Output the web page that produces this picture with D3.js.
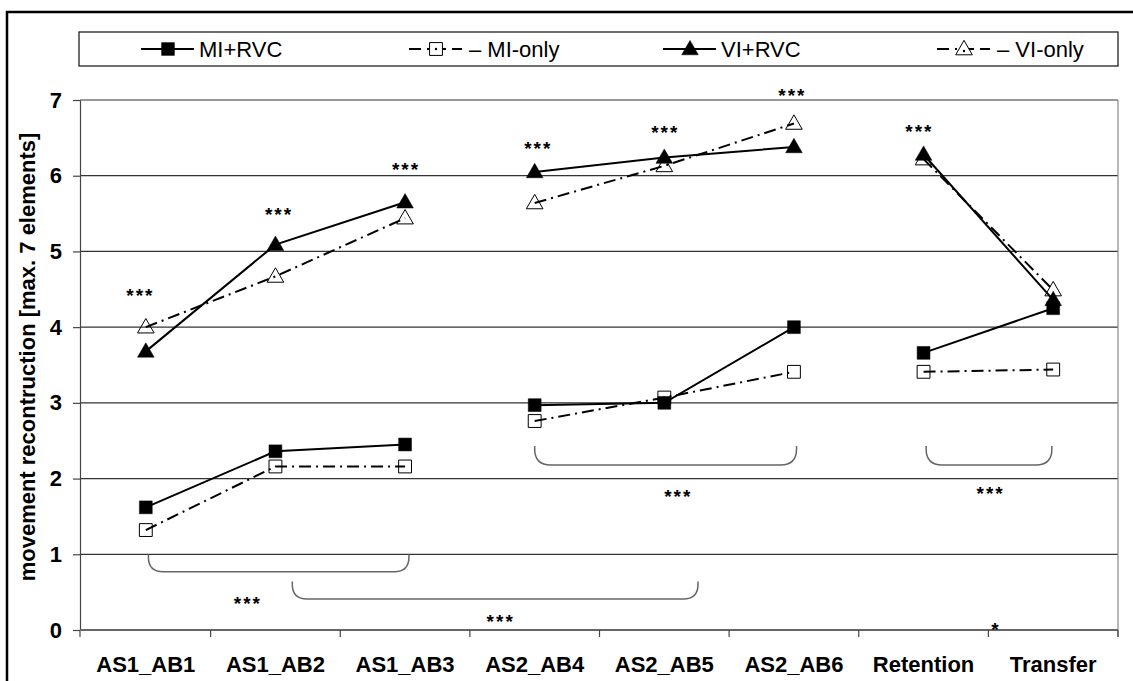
<!DOCTYPE html>
<html>
<head>
<meta charset="utf-8">
<script src="https://cdn.jsdelivr.net/npm/d3@7"></script>
<style>
	body { margin: 0; background: #fff; }
	.tickLabel { font-family: "Liberation Sans", Arial, sans-serif; font-weight: bold; fill: #000; }
	.legendText { font-family: "Liberation Sans Narrow", "Liberation Sans", Arial, sans-serif; font-size: 22px; fill: #000; }
	.stars { font-family: "Liberation Sans", Arial, sans-serif; font-weight: bold; font-size: 19px; letter-spacing: 2px; fill: #000; }
</style>
</head>
<body>
<script>

//Chart values
let categories = ["AS1_AB1", "AS1_AB2", "AS1_AB3", "AS2_AB4", "AS2_AB5", "AS2_AB6", "Retention", "Transfer"];
let miRvc  = [1.62, 2.36, 2.45, 2.97, 3.00, 4.00, 3.66, 4.25];
let miOnly = [1.32, 2.16, 2.16, 2.76, 3.07, 3.41, 3.41, 3.44];
let viRvc  = [3.68, 5.09, 5.65, 6.05, 6.24, 6.38, 6.28, 4.36];
let viOnly = [4.00, 4.67, 5.44, 5.64, 6.13, 6.69, 6.22, 4.49];
let yTicks = [0, 1, 2, 3, 4, 5, 6, 7];

//Lines are only joined inside each block of sessions
let segments = [[0, 2], [3, 5], [6, 7]];

//Significance stars: [category index, value, text]
let starMarks = [
	[-0.05, 4.48, "***"], [1.02, 5.55, "***"], [2.0, 6.14, "***"],
	[3.02, 6.42, "***"], [4.0, 6.63, "***"], [4.98, 7.12, "***"],
	[5.96, 6.65, "***"],
	[0.78, 0.41, "***"], [2.73, 0.17, "***"], [4.1, 1.82, "***"],
	[6.51, 1.86, "***"], [6.55, 0.06, "*"]
];

//Brackets under the lines: [from index, to index, top value, bottom value]
let brackets = [
	[0.02, 2.03, 1.0, 0.77],
	[1.13, 4.26, 0.64, 0.41],
	[3.0, 5.02, 2.43, 2.18],
	[6.02, 6.99, 2.43, 2.18]
];

let legendNames = ["MI+RVC", "MI-only", "VI+RVC", "VI-only"];

window.onload = drawChart();

function drawChart(){

	let width = 1133;
	let height = 681;

	let svg = d3.select("body")
		.append("svg")
		.attr("width", width)
		.attr("height", height);

	//Outer frame, running off the bottom and right
	svg.append("rect")
		.attr("x", 7)
		.attr("y", 12)
		.attr("width", 1150)
		.attr("height", 700)
		.attr("fill", "none")
		.attr("stroke", "#000")
		.attr("stroke-width", 2.5);

	let left = 80, right = 1118, top = 100, bottom = 630;

	let x = d3.scaleBand()
		.domain(categories)
		.range([left + 1, right]);

	//Index scale for annotations placed between categories
	let xi = d3.scaleLinear()
		.domain([0, 1])
		.range([x(categories[0]) + x.bandwidth() / 2, x(categories[1]) + x.bandwidth() / 2]);

	let y = d3.scaleLinear()
		.domain([0, 7])
		.range([bottom, top]);

	//Horizontal gridlines
	svg.selectAll(".grid")
		.data(yTicks.filter(function(d){ return d > 0; }))
		.enter()
		.append("line")
		.attr("x1", left)
		.attr("x2", right)
		.attr("y1", function(d){ return y(d); })
		.attr("y2", function(d){ return y(d); })
		.attr("stroke", "#333")
		.attr("stroke-width", 1.2);

	//Right edge of the plot
	svg.append("line")
		.attr("x1", right).attr("x2", right)
		.attr("y1", top).attr("y2", bottom + 7)
		.attr("stroke", "#888")
		.attr("stroke-width", 1.2);

	//Y axis
	let yAxis = svg.append("g")
		.attr("transform", "translate(" + left + ",0)")
		.call(d3.axisLeft(y).tickValues(yTicks).tickFormat(d3.format("d")).tickSize(7).tickPadding(11).tickSizeOuter(0));
	yAxis.select(".domain").attr("stroke", "#444").attr("stroke-width", 1.2);
	yAxis.selectAll(".tick line").attr("stroke", "#444").attr("stroke-width", 1.2);
	yAxis.selectAll(".tick text")
		.attr("class", "tickLabel")
		.style("font-size", "22px");

	//Extend the y axis below zero like the original
	svg.append("line")
		.attr("x1", left).attr("x2", left)
		.attr("y1", bottom).attr("y2", bottom + 7)
		.attr("stroke", "#444")
		.attr("stroke-width", 1.2);

	//X axis line with ticks on the band edges
	svg.append("line")
		.attr("x1", left).attr("x2", right)
		.attr("y1", bottom).attr("y2", bottom)
		.attr("stroke", "#666")
		.attr("stroke-width", 2);

	let edges = categories.map(function(c){ return x(c); }).concat([x.range()[1]]);
	svg.selectAll(".xTick")
		.data(edges.slice(1))
		.enter()
		.append("line")
		.attr("x1", function(d){ return d; })
		.attr("x2", function(d){ return d; })
		.attr("y1", bottom)
		.attr("y2", bottom + 7)
		.attr("stroke", "#444")
		.attr("stroke-width", 1.2);

	svg.selectAll(".xLabel")
		.data(categories)
		.enter()
		.append("text")
		.attr("class", "tickLabel")
		.attr("x", function(d){ return x(d) + x.bandwidth() / 2; })
		.attr("y", 672)
		.attr("text-anchor", "middle")
		.style("font-size", "22px")
		.text(function(d){ return d; });

	//Y axis title
	svg.append("text")
		.attr("class", "tickLabel")
		.attr("transform", "translate(35,357) rotate(-90)")
		.attr("text-anchor", "middle")
		.style("font-size", "22px")
		.text("movement recontruction [max. 7 elements]");

	//Brackets
	svg.selectAll(".bracket")
		.data(brackets)
		.enter()
		.append("path")
		.attr("d", function(d){
			let x1 = xi(d[0]), x2 = xi(d[1]), yt = y(d[2]), yb = y(d[3]);
			let r = Math.min(16, (yb - yt) * 0.85);
			return "M" + x1 + "," + yt +
				"L" + x1 + "," + (yb - r) +
				"Q" + x1 + "," + yb + " " + (x1 + r) + "," + yb +
				"L" + (x2 - r) + "," + yb +
				"Q" + x2 + "," + yb + " " + x2 + "," + (yb - r) +
				"L" + x2 + "," + yt;
		})
		.attr("fill", "none")
		.attr("stroke", "#666")
		.attr("stroke-width", 1.5);

	//Stars
	svg.selectAll(".stars")
		.data(starMarks)
		.enter()
		.append("text")
		.attr("class", "stars")
		.attr("x", function(d){ return xi(d[0]) + 1; })
		.attr("y", function(d){ return y(d[1]) + 11; })
		.attr("text-anchor", "middle")
		.text(function(d){ return d[2]; });

	//Series definitions
	let series = [
		{ name: legendNames[0], values: miRvc, dash: null, symbol: d3.symbolSquare, size: 165, filled: true },
		{ name: legendNames[1], values: miOnly, dash: "12,5,2,5", symbol: d3.symbolSquare, size: 165, filled: false },
		{ name: legendNames[2], values: viRvc, dash: null, symbol: d3.symbolTriangle, size: 120, filled: true },
		{ name: legendNames[3], values: viOnly, dash: "12,5,2,5", symbol: d3.symbolTriangle, size: 120, filled: false }
	];

	let line = d3.line()
		.x(function(d){ return x(categories[d[0]]) + x.bandwidth() / 2; })
		.y(function(d){ return y(d[1]); });

	//Open series first so the solid lines sit on top
	[1, 3, 0, 2].forEach(function(si){
		let s = series[si];
		segments.forEach(function(seg){
			let pts = [];
			for (let i = seg[0]; i <= seg[1]; i++) pts.push([i, s.values[i]]);
			svg.append("path")
				.attr("d", line(pts))
				.attr("fill", "none")
				.attr("stroke", "#000")
				.attr("stroke-width", 2)
				.attr("stroke-dasharray", s.dash);
		});
	});

	[1, 3, 0, 2].forEach(function(si){
		let s = series[si];
		svg.selectAll(".mark" + si)
			.data(s.values)
			.enter()
			.append("path")
			.attr("d", d3.symbol().type(s.symbol).size(s.size))
			.attr("transform", function(d, i){
				let dy = s.symbol === d3.symbolTriangle ? 1 : 0;
				return "translate(" + (x(categories[i]) + x.bandwidth() / 2) + "," + (y(d) + dy) + ")";
			})
			.attr("fill", s.filled ? "#000" : "none")
			.attr("stroke", "#000")
			.attr("stroke-width", s.filled ? 0.5 : 1);
	});

	//Legend box
	svg.append("rect")
		.attr("x", 79)
		.attr("y", 32)
		.attr("width", right - 79)
		.attr("height", 34)
		.attr("fill", "#fff")
		.attr("stroke", "#222")
		.attr("stroke-width", 1.3);

	let legendX = [141, 409, 663, 937];
	let legend = svg.selectAll(".legendItem")
		.data(series)
		.enter()
		.append("g")
		.attr("transform", function(d, i){ return "translate(" + legendX[i] + ",49)"; });

	legend.append("line")
		.attr("x1", 0)
		.attr("x2", 53)
		.attr("stroke", "#000")
		.attr("stroke-width", 2)
		.attr("stroke-dasharray", function(d){ return d.dash ? "12,6,2,4,13,6,12" : null; });

	legend.append("path")
		.attr("d", function(d){ return d3.symbol().type(d.symbol).size(d.size)(); })
		.attr("transform", function(d){ return "translate(27," + (d.symbol === d3.symbolTriangle ? 1 : 0) + ")"; })
		.attr("fill", function(d){ return d.filled ? "#000" : "#fff"; })
		.attr("stroke", "#000")
		.attr("stroke-width", function(d){ return d.filled ? 0.5 : 1; });

	legend.filter(function(d){ return !d.filled; })
		.append("circle")
		.attr("cx", 27)
		.attr("cy", function(d){ return d.symbol === d3.symbolTriangle ? 2 : 0; })
		.attr("r", 1.2)
		.attr("fill", "#000");

	legend.append("text")
		.attr("class", "legendText")
		.attr("x", function(d){ return d.dash ? 60 : 58; })
		.attr("y", 8)
		.text(function(d){ return d.dash ? "\u2013 " + d.name : d.name; });
}
</script>
</body>
</html>
